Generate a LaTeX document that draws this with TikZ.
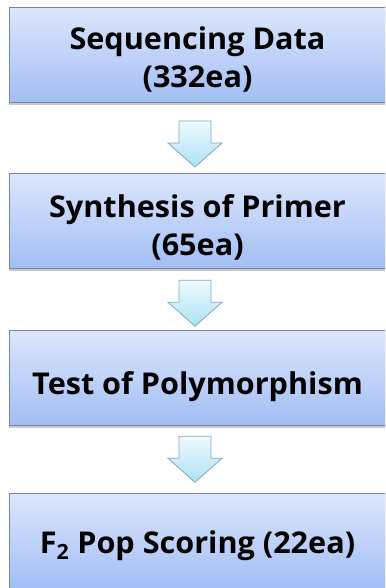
\documentclass[tikz,border=0pt]{standalone}
\usepackage{fontspec}
\setmainfont{Open Sans}[BoldFeatures={FakeStretch=1.02}]
\usetikzlibrary{calc,shadows}
\definecolor{boxtop}{RGB}{220,230,252}
\definecolor{boxbot}{RGB}{162,190,245}
\definecolor{boxline}{RGB}{118,132,158}
\definecolor{arrtop}{RGB}{238,250,253}
\definecolor{arrbot}{RGB}{172,226,246}
\definecolor{arrline}{RGB}{128,168,190}
\newcommand{\boxtext}[2]{\raisebox{-#1}[0pt][0pt]{\hspace*{-3pt}#2}}
\tikzset{
  stepbox/.style={rectangle, draw=boxline, line width=0.9pt,
    top color=boxtop, bottom color=boxbot,
    minimum width=380pt, minimum height=95pt, inner sep=0pt,
    align=center, font=\fontsize{30}{38}\selectfont\bfseries,
    drop shadow={shadow xshift=0pt, shadow yshift=-2.5pt, opacity=0.35, fill=black!60}},
  downarrow/.pic={
    \draw[draw=arrline, line width=0.8pt, top color=arrtop, bottom color=arrbot]
      (-16,-22) -- (16,-22) -- (16,0) -- (27,0) -- (0,24) -- (-27,0) -- (-16,0) -- cycle;
  }
}
\begin{document}
\begin{tikzpicture}[x=1pt,y=-1pt]
\useasboundingbox (0,0) rectangle (385,588);
\clip (0,0) rectangle (385,588);
\node[stepbox] (b1) at (199,55) {\boxtext{33pt}{\begin{tabular}[b]{@{}c@{}}Sequencing Data\\(332ea)\end{tabular}}};
\node[stepbox] (b2) at (199,221) {\boxtext{34pt}{\begin{tabular}[b]{@{}c@{}}Synthesis of Primer\\(65ea)\end{tabular}}};
\node[stepbox] (b3) at (199,377.5) {\boxtext{17pt}{Test of Polymorphism}};
\node[stepbox] (b4) at (199,541) {\boxtext{12pt}{F\textsubscript{2} Pop Scoring (22ea)}};
\pic at ($(b1.south)!0.5!(b2.north)+(-4,5)$) {downarrow};
\pic at ($(b2.south)!0.5!(b3.north)+(-4,3)$) {downarrow};
\pic at ($(b3.south)!0.5!(b4.north)+(-4,-1)$) {downarrow};
\end{tikzpicture}
\end{document}
